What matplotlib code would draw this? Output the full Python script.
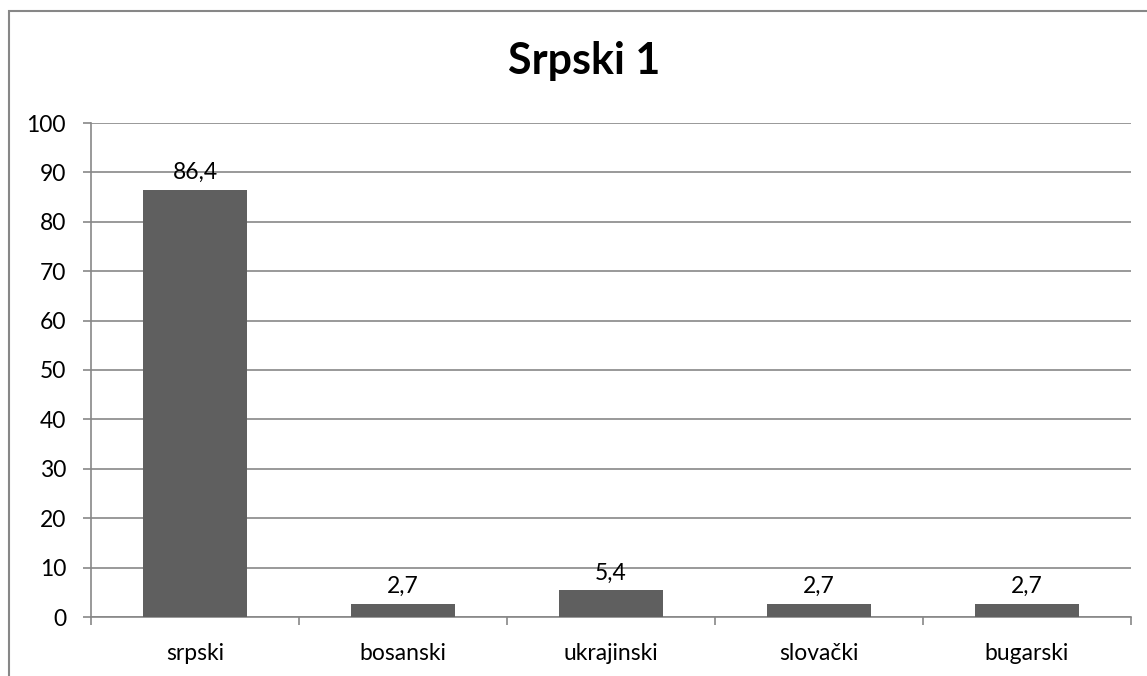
import matplotlib
matplotlib.use('Agg')
import matplotlib.pyplot as plt
from matplotlib.patches import Rectangle

plt.rcParams['font.family'] = ['Lato', 'DejaVu Sans']

categories = ['srpski', 'bosanski', 'ukrajinski', 'slovački', 'bugarski']
values = [86.4, 2.7, 5.4, 2.7, 2.7]
labels = ['86,4', '2,7', '5,4', '2,7', '2,7']
title = 'Srpski 1'

W, H = 1147, 676
fig = plt.figure(figsize=(W / 100, H / 100), dpi=100)
ax = fig.add_axes([91 / W, (H - 617) / H, (1131 - 91) / W, (617 - 123) / H])

grid_col = '#878787'
fs = 16.5
ax.bar(range(len(categories)), values, width=0.5, color='#5f5f5f', zorder=3)
for i, (v, lab) in enumerate(zip(values, labels)):
    ax.annotate(lab, (i, v), xytext=(0, 5), textcoords='offset points',
                ha='center', va='bottom', fontsize=fs, color='black', zorder=4)

ax.set_xlim(-0.5, len(categories) - 0.5)
ax.set_ylim(0, 100)
ax.set_yticks(range(0, 101, 10))
ax.yaxis.grid(True, color=grid_col, linewidth=1.2, zorder=0)

ax.set_xticks(range(len(categories)))
ax.set_xticklabels(categories)
ax.set_xticks([i - 0.5 for i in range(len(categories) + 1)], minor=True)
ax.tick_params(axis='x', which='major', length=0, pad=19, labelsize=fs)
ax.tick_params(axis='x', which='minor', length=6, width=1.2, color=grid_col, direction='out')
ax.tick_params(axis='y', length=6, width=1.2, color=grid_col, direction='out', pad=12, labelsize=fs)

for side in ['top', 'right']:
    ax.spines[side].set_visible(False)
for side in ['left', 'bottom']:
    ax.spines[side].set_color(grid_col)
    ax.spines[side].set_linewidth(1.2)

fig.text(584 / W, 1 - 61 / H, title, ha='center', va='center',
         fontsize=31, fontweight='bold')

fig.patches.append(Rectangle((9 / W, -0.2), 1.5, 1.2 - 11 / H, transform=fig.transFigure,
                             fill=False, edgecolor=grid_col, linewidth=1.5))

fig.savefig('out.png', dpi=100)
